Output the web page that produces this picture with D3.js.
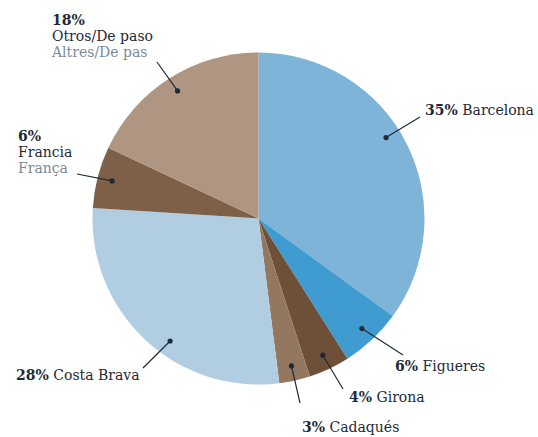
<!DOCTYPE html>
<html><head><meta charset="utf-8">
<script src="https://cdn.jsdelivr.net/npm/d3@7/dist/d3.min.js"></script>
<style>body{margin:0;background:#fff}svg{display:block}</style>
</head><body>
<script>
const categories = ["Barcelona","Figueres","Girona","Cadaqués","Costa Brava","Francia","Otros/De paso"];
const subLabels = ["","","","","","França","Altres/De pas"];
const values = [35,6,4,3,28,6,18];
const colors = ["#7db4d8","#3f9bd0","#6e5038","#93775f","#b1cde2","#7e6049","#af9682"];

// label layout (relative to pie centre): line end, text anchor, dot angle override
const layout = [
  {lx:161.5, ly:-101.5, tx:166.5, ty:-103.5, inline:true, dotAngle:57.6},
  {lx:144.5, ly:136.5, tx:136.5, ty:152.5, inline:true},
  {lx:84.5, ly:170.5, tx:90.5, ty:183.5, inline:true},
  {lx:41.5, ly:184.5, tx:43.5, ty:213.5, inline:true},
  {lx:-115.5, ly:149.5, tx:-242.5, ty:161.5, inline:true, dotAngle:215.8},
  {lx:-181.5, ly:-44.5, tx:-240.5, ty:-77.5, inline:false},
  {lx:-101.5, ly:-156.5, tx:-206.5, ty:-193.5, inline:false}
];

const W=538, H=437, cx=258.5, cy=218.5, R=166;
const svg=d3.select("body").append("svg").attr("width",W).attr("height",H);
const g=svg.append("g").attr("transform",`translate(${cx},${cy})`);

const data=categories.map((c,i)=>({name:c,sub:subLabels[i],value:values[i],color:colors[i],lay:layout[i]}));
const pie=d3.pie().value(d=>d.value).sort(null);
const arcs=pie(data);
const arc=d3.arc().innerRadius(0).outerRadius(R);

g.selectAll("path.slice").data(arcs).join("path").attr("class","slice")
  .attr("d",arc).attr("fill",d=>d.data.color);

const dark="#1e2a38", grey="#7b8b9a";
const font="'DejaVu Serif', serif";
const rDot=R*0.91;
arcs.forEach(a=>{
  const L=a.data.lay;
  const ang = L.dotAngle!==undefined ? L.dotAngle*Math.PI/180 : (a.startAngle+a.endAngle)/2;
  const dx=Math.sin(ang)*rDot, dy=-Math.cos(ang)*rDot;
  g.append("line").attr("x1",dx).attr("y1",dy).attr("x2",L.lx).attr("y2",L.ly)
    .attr("stroke",dark).attr("stroke-width",1.2);
  g.append("circle").attr("cx",dx).attr("cy",dy).attr("r",2.6).attr("fill",dark);
  const t=g.append("text").attr("x",L.tx).attr("y",L.ty)
    .attr("font-family",font).attr("font-size",14).attr("fill",dark);
  if(L.inline){
    t.append("tspan").attr("font-weight","bold").text(a.data.value+"%");
    t.append("tspan").text(" "+a.data.name);
  } else {
    t.append("tspan").attr("font-weight","bold").text(a.data.value+"%");
    t.append("tspan").attr("x",L.tx).attr("dy",16).text(a.data.name);
    t.append("tspan").attr("x",L.tx).attr("dy",16).attr("fill",grey).text(a.data.sub);
  }
});
</script>
</body></html>
